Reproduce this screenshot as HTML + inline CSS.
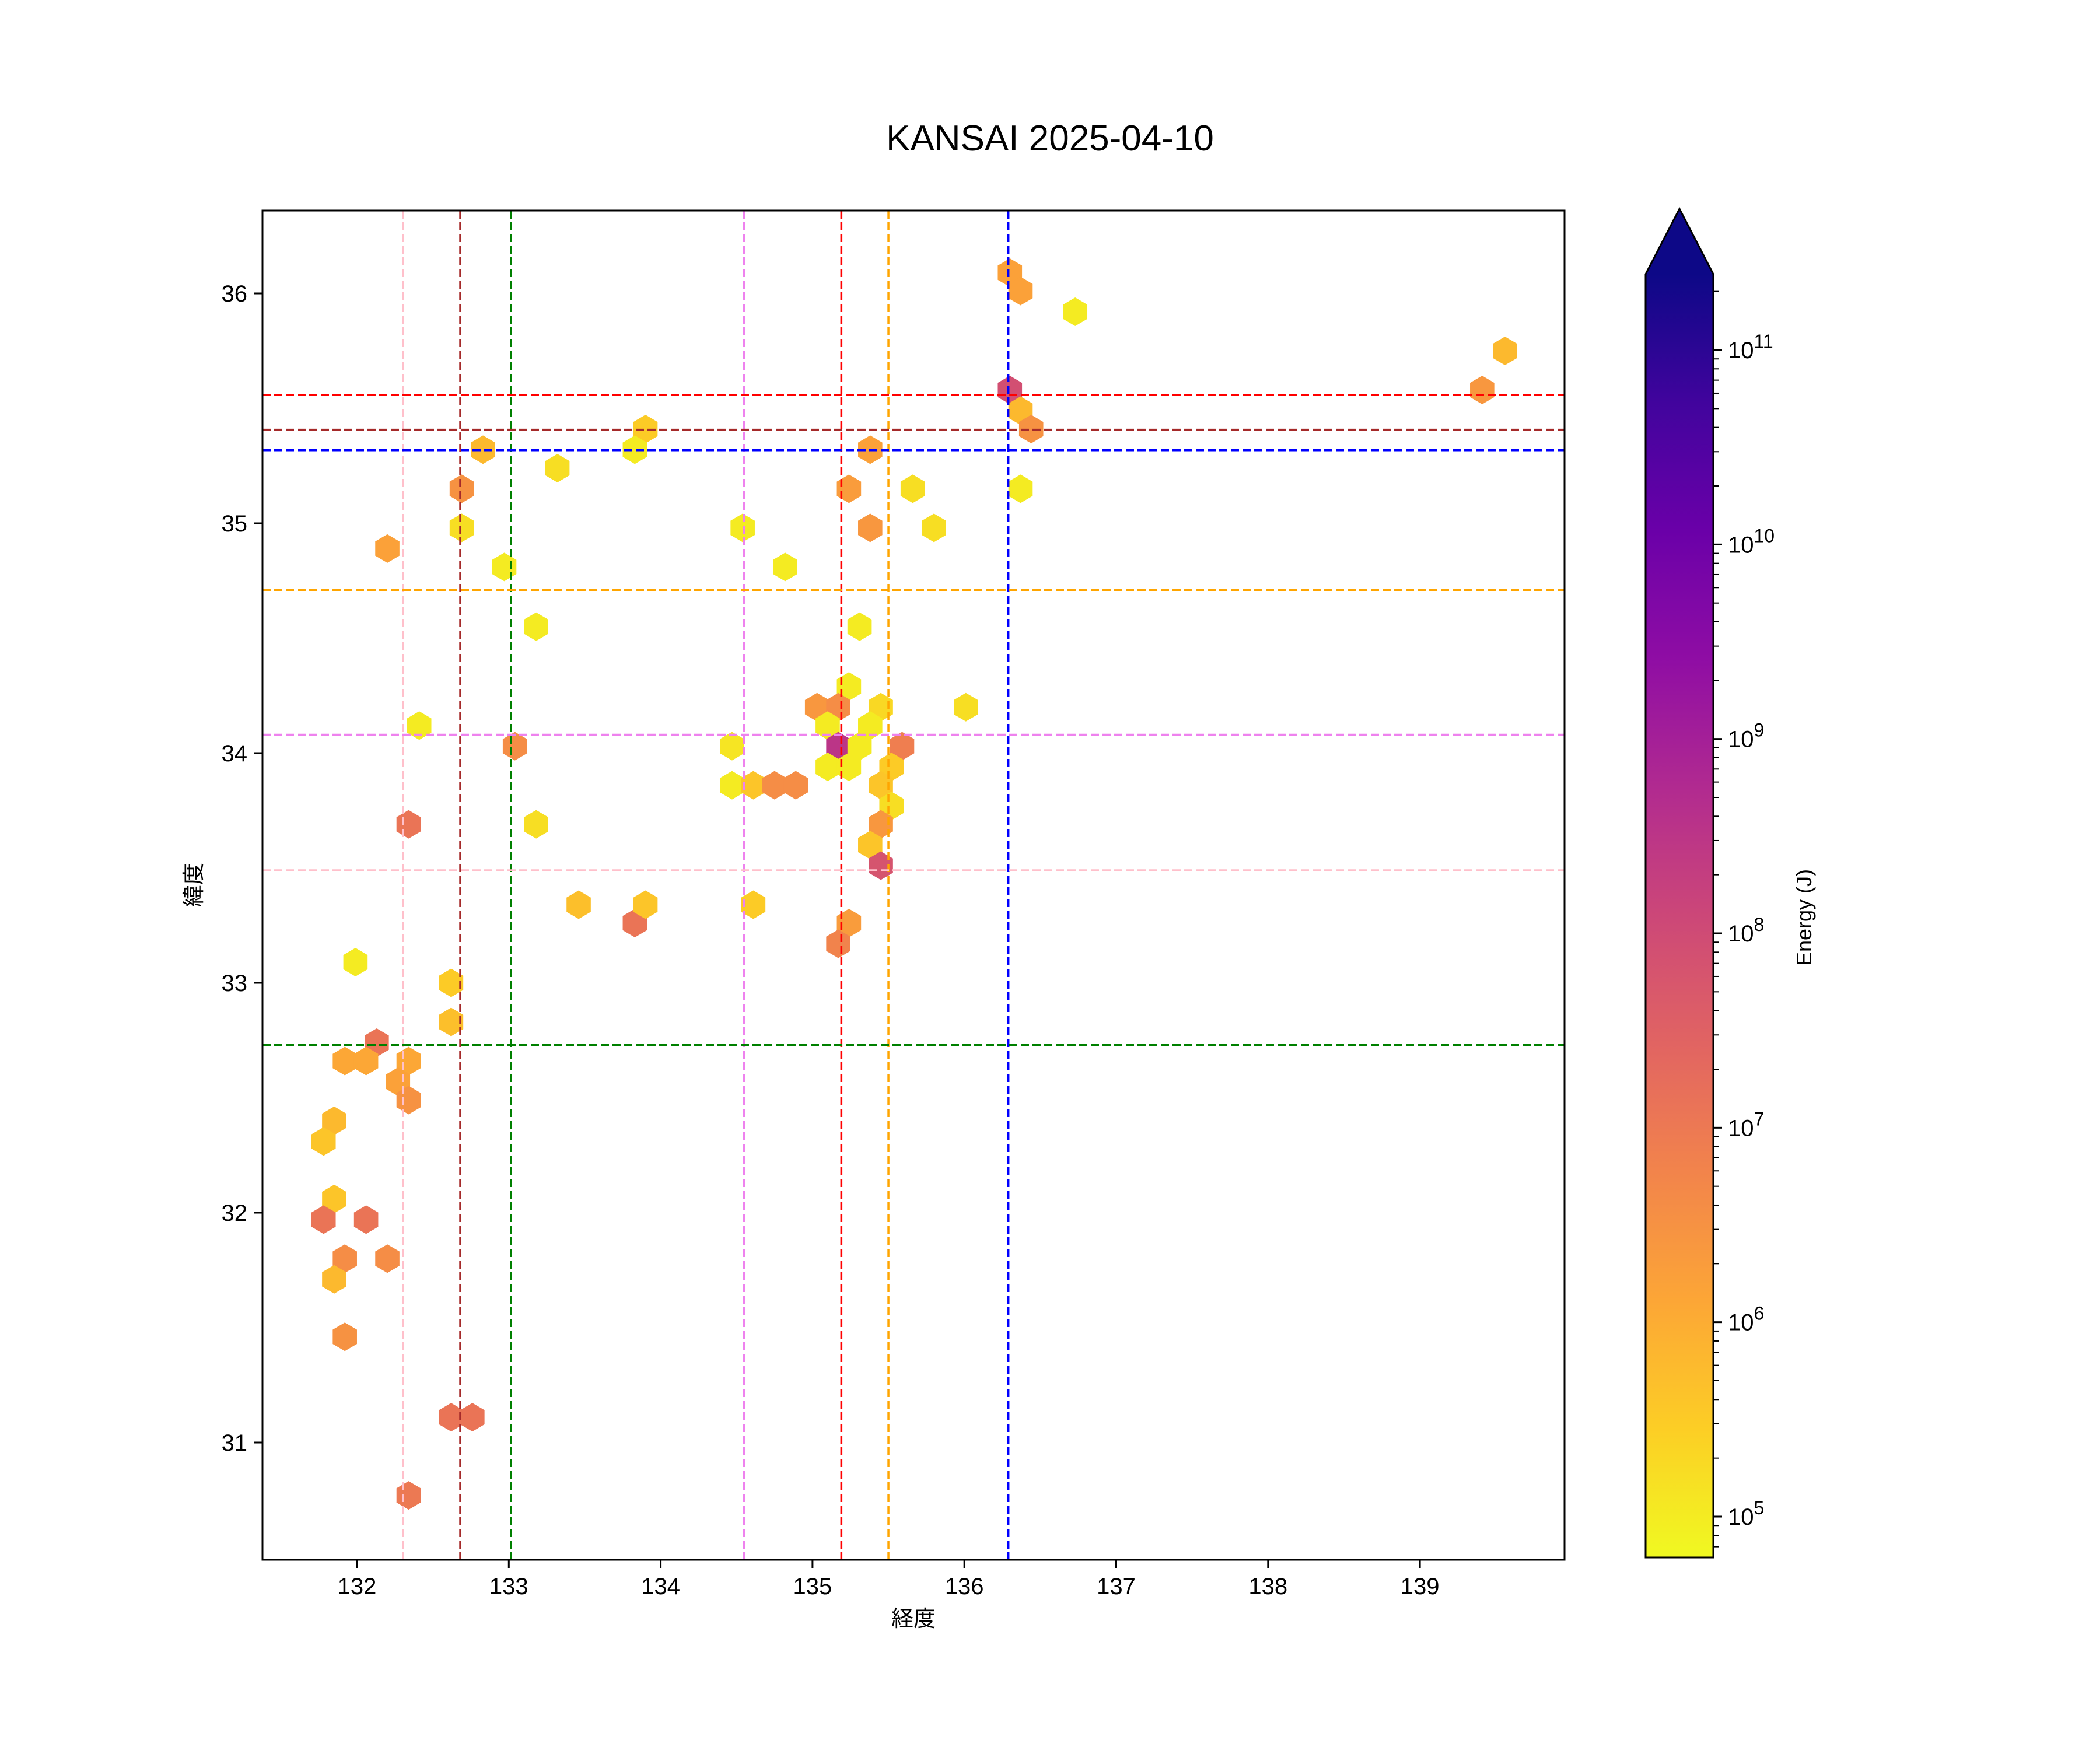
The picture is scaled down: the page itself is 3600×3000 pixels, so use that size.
<!DOCTYPE html>
<html><head><meta charset="utf-8"><style>
html,body{margin:0;padding:0;background:#fff;}
svg{display:block;font-family:"Liberation Sans","Noto Sans CJK JP",sans-serif;}
</style></head><body>
<svg id="chart" width="3600" height="3000" viewBox="0 0 3600 3000" xmlns="http://www.w3.org/2000/svg">
<defs><linearGradient id="cbgrad" x1="0" y1="1" x2="0" y2="0"></linearGradient>
<clipPath id="axclip"><rect x="450" y="361" width="2232" height="2313"/></clipPath></defs>
<rect x="0" y="0" width="3600" height="3000" fill="#fff"/>
<text x="1800" y="258" font-size="62" text-anchor="middle" fill="#000">KANSAI 2025-04-10</text>
<g id="plot" clip-path="url(#axclip)"></g>
<rect x="450" y="361" width="2232" height="2313" fill="none" stroke="#000" stroke-width="3"/>
<g id="axes"></g>
<text x="1566" y="2788" font-size="38" text-anchor="middle">経度</text>
<text x="345" y="1517" font-size="38" text-anchor="middle" transform="rotate(-90 345 1517)">緯度</text>
<g id="cbar"></g>
<text x="3105" y="1573" font-size="36" text-anchor="middle" transform="rotate(-90 3105 1573)">Energy (J)</text>
</svg>
<script>
const lons=[136.3,136.37,136.73,139.56,139.41,136.3,136.37,136.44,136.37,133.9,133.83,132.83,133.32,132.69,132.69,132.2,132.97,133.18,132.41,133.04,132.34,133.18,133.46,133.83,133.9,134.54,134.82,135.24,135.38,135.38,135.66,135.8,135.31,135.24,135.03,135.17,135.45,135.1,135.38,135.17,135.31,135.59,135.1,135.24,135.52,134.47,134.47,134.61,134.75,134.89,135.45,135.52,135.45,135.38,135.45,134.61,135.24,135.17,136.01,131.99,132.62,132.62,132.13,131.92,132.06,132.34,132.27,132.34,131.85,131.78,131.85,131.78,132.06,131.92,132.2,131.85,131.92,132.62,132.76,132.34];
const lats=[36.09,36.01,35.92,35.75,35.58,35.58,35.49,35.41,35.15,35.41,35.32,35.32,35.24,35.15,34.98,34.89,34.81,34.55,34.12,34.03,33.69,33.69,33.34,33.26,33.34,34.98,34.81,35.15,35.32,34.98,35.15,34.98,34.55,34.29,34.2,34.2,34.2,34.12,34.12,34.03,34.03,34.03,33.94,33.94,33.94,34.03,33.86,33.86,33.86,33.86,33.86,33.77,33.69,33.6,33.51,33.34,33.26,33.17,34.2,33.09,33.0,32.83,32.74,32.66,32.66,32.66,32.57,32.49,32.4,32.31,32.06,31.97,31.97,31.8,31.8,31.71,31.46,31.11,31.11,30.77];
const logEnergy=[6.2,6.2,5.0,5.8,6.4,7.9,5.8,6.5,5.0,5.5,5.0,5.8,5.2,6.5,5.2,6.2,5.0,5.0,5.0,6.6,7.1,5.2,5.7,7.1,5.6,5.0,5.0,6.3,6.2,6.4,5.2,5.2,5.0,5.0,6.4,6.6,5.3,5.0,5.0,8.5,5.0,6.9,5.0,5.0,5.5,5.1,5.0,5.6,6.6,6.6,5.6,5.2,6.4,5.6,7.8,5.5,6.3,6.8,5.2,5.0,5.5,5.7,7.1,6.1,6.1,6.1,6.2,6.5,5.8,5.6,5.6,7.1,7.1,6.6,6.6,5.8,6.5,7.1,7.1,7.0];
const xTicks=[132,133,134,135,136,137,138,139];
const yTicks=[31,32,33,34,35,36];
const cbDecades=[5,6,7,8,9,10,11];
const vLineLons=[132.303,132.68,133.014,134.55,135.19,135.5,136.29];
const vLineColors=["pink","brown","green","violet","red","orange","blue"];
const hLineLats=[35.559,35.407,35.318,34.71,34.08,33.49,32.73];
const hLineColors=["red","brown","blue","orange","violet","pink","green"];

const NS="http://www.w3.org/2000/svg";
const X=lon=>612+(lon-132)*260.3;
const Y=lat=>503+(36-lat)*394;
const cbMin=4.79,cbMax=11.39,cbTop=470,cbBot=2670;
const CY=v=>cbBot-(v-cbMin)/(cbMax-cbMin)*(cbBot-cbTop);
const plasma=["#0d0887","#41049d","#6a00a8","#8f0da4","#b12a90","#cc4778","#e16462","#f2844b","#fca636","#fcce25","#f0f921"];
function hex2rgb(h){return [1,3,5].map(i=>parseInt(h.substr(i,2),16));}
function cmap(t){t=Math.max(0,Math.min(1,t));const f=t*10,i=Math.min(9,Math.floor(f)),r=f-i;
 const a=hex2rgb(plasma[i]),b=hex2rgb(plasma[i+1]);return "rgb("+a.map((v,k)=>Math.round(v+(b[k]-v)*r)).join(",")+")";}
const colorFor=v=>cmap(1-(v-cbMin)/(cbMax-cbMin));
function mk(tag,attrs,parent){const e=document.createElementNS(NS,tag);for(const k in attrs)e.setAttribute(k,attrs[k]);parent.appendChild(e);return e;}

const plot=document.getElementById('plot');
const rr=24.5,hw=20.8;
for(let i=0;i<lons.length;i++){
 const cx=X(lons[i]),cy=Y(lats[i]);
 const pts=[[cx,cy-rr],[cx+hw,cy-rr/2],[cx+hw,cy+rr/2],[cx,cy+rr],[cx-hw,cy+rr/2],[cx-hw,cy-rr/2]].map(p=>p.join(",")).join(" ");
 const h=mk('polygon',{points:pts,fill:colorFor(logEnergy[i])},plot);
 
 
}
for(let i=0;i<vLineLons.length;i++){
 const l=mk('line',{x1:X(vLineLons[i]),x2:X(vLineLons[i]),y1:361,y2:2674,stroke:vLineColors[i],'stroke-width':3.5,'stroke-dasharray':'14 6'},plot);
 
 
}
for(let i=0;i<hLineLats.length;i++){
 const l=mk('line',{x1:450,x2:2682,y1:Y(hLineLats[i]),y2:Y(hLineLats[i]),stroke:hLineColors[i],'stroke-width':3.5,'stroke-dasharray':'14 6'},plot);
 
 
}
const axes=document.getElementById('axes');
xTicks.forEach(v=>{
 const t=mk('line',{x1:X(v),x2:X(v),y1:2674,y2:2688,stroke:'#000','stroke-width':3},axes);
 
 
 const tx=mk('text',{x:X(v),y:2733,'font-size':40,'text-anchor':'middle'},axes);tx.textContent=v;
 
 
});
yTicks.forEach(v=>{
 const t=mk('line',{x1:436,x2:450,y1:Y(v),y2:Y(v),stroke:'#000','stroke-width':3},axes);
 
 
 const tx=mk('text',{x:424,y:Y(v)+14,'font-size':40,'text-anchor':'end'},axes);tx.textContent=v;
 
 
});
const grad=document.getElementById('cbgrad');
for(let i=0;i<=20;i++){mk('stop',{offset:(i/20),'stop-color':cmap(1-i/20)},grad);}
const cb=document.getElementById('cbar');
const bar=mk('rect',{x:2821,y:cbTop,width:116,height:cbBot-cbTop,fill:'url(#cbgrad)'},cb);


const arr=mk('path',{d:`M2821 ${cbTop} L2879 358 L2937 ${cbTop} Z`,fill:'#0d0887'},cb);


mk('path',{d:`M2821 ${cbBot} L2821 ${cbTop} L2879 358 L2937 ${cbTop} L2937 ${cbBot} Z`,fill:'none',stroke:'#000','stroke-width':3},cb);
for(let d=4;d<=11;d++){for(let m=1;m<10;m++){
 const v=d+Math.log10(m);if(v<cbMin||v>cbMax)continue;const y=CY(v);
 const t=mk('line',{x1:2937,x2:m===1?2952:2946,y1:y,y2:y,stroke:'#000','stroke-width':m===1?3:2},cb);
 
 
}}
cbDecades.forEach(d=>{
 const y=CY(d);
 const tx=mk('text',{x:2962,y:y+14,'font-size':40},cb);
 
 
 tx.appendChild(document.createTextNode('10'));
 const s=mk('tspan',{dy:-18,'font-size':32},tx);s.textContent=String(d);
});
</script>
</body></html>
